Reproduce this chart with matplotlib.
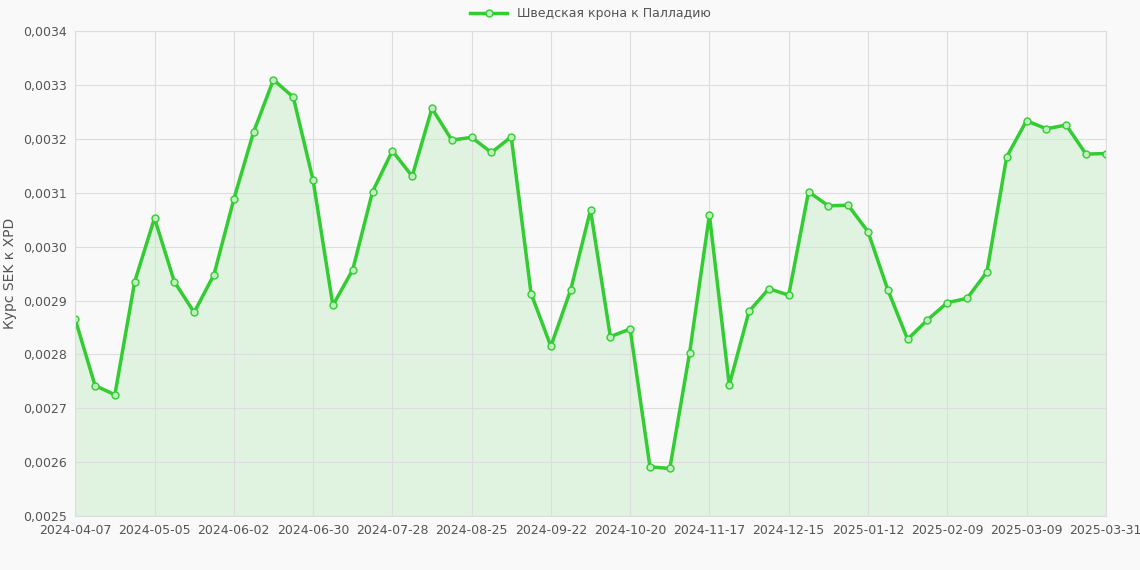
import matplotlib.pyplot as plt
from matplotlib.ticker import FuncFormatter

rates = [0.002865, 0.002742, 0.002725, 0.002935, 0.003053, 0.002935, 0.002878, 0.002948,
         0.003088, 0.003213, 0.003310, 0.003278, 0.003124, 0.002891, 0.002957, 0.003102,
         0.003178, 0.003131, 0.003257, 0.003198, 0.003203, 0.003175, 0.003204, 0.002913,
         0.002815, 0.002920, 0.003068, 0.002833, 0.002847, 0.002591, 0.002588, 0.002803,
         0.003059, 0.002743, 0.002880, 0.002922, 0.002910, 0.003102, 0.003076, 0.003077,
         0.003028, 0.002920, 0.002828, 0.002864, 0.002896, 0.002904, 0.002953, 0.003167,
         0.003234, 0.003219, 0.003226, 0.003172, 0.003173]
tick_labels = ["2024-04-07", "2024-05-05", "2024-06-02", "2024-06-30", "2024-07-28",
               "2024-08-25", "2024-09-22", "2024-10-20", "2024-11-17", "2024-12-15",
               "2025-01-12", "2025-02-09", "2025-03-09", "2025-03-31"]
tick_pos = list(range(0, 49, 4)) + [len(rates) - 1]

green = "#33cc33"
fig = plt.figure(figsize=(11.4, 5.7), dpi=100, facecolor="#f9f9f9")
ax = fig.add_axes([0.066, 0.095, 0.904, 0.85])
ax.set_facecolor("#f9f9f9")
x = range(len(rates))
ax.fill_between(x, rates, 0.0025, color=green, alpha=0.12, linewidth=0)
ax.plot(x, rates, color=green, linewidth=2.5, marker="o", markersize=5,
        markerfacecolor="#bfeebf", markeredgecolor=green, markeredgewidth=1,
        label="Шведская крона к Палладию")
ax.set_xlim(0, len(rates) - 1)
ax.set_ylim(0.0025, 0.0034)
ax.set_yticks([0.0025 + i * 0.0001 for i in range(10)])
ax.yaxis.set_major_formatter(FuncFormatter(lambda v, p: f"{v:.4f}".replace(".", ",")))
ax.set_xticks(tick_pos)
ax.set_xticklabels(tick_labels)
ax.grid(True, color="#dddddd", linewidth=0.8)
for s in ax.spines.values():
    s.set_color("#dddddd")
ax.tick_params(colors="#555555", labelsize=9, length=0, pad=6)
ax.set_ylabel("Курс SEK к XPD", color="#555555", fontsize=10)
ax.legend(loc="lower center", bbox_to_anchor=(0.5, 1.0), frameon=False, fontsize=9,
          labelcolor="#555555", handlelength=3)
fig.savefig("out.png", dpi=100, facecolor=fig.get_facecolor())
